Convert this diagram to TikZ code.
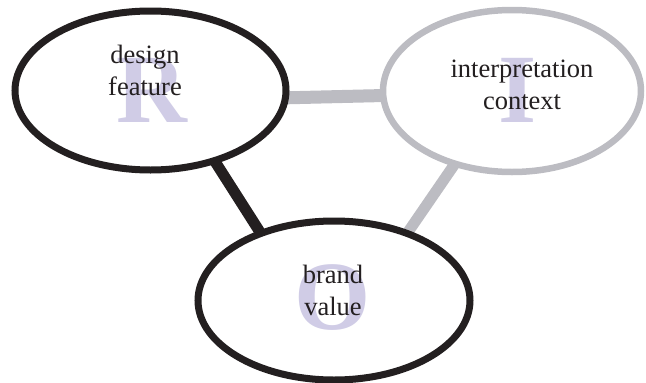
\documentclass[tikz,border=0pt]{standalone}
\usepackage{fontspec}
\setmainfont{Liberation Serif}
\usepackage{xcolor}
\usepackage{tikz}
\usetikzlibrary{shapes.geometric,backgrounds}
\definecolor{inkblack}{RGB}{35,31,32}
\definecolor{linkgray}{RGB}{188,188,194}
\definecolor{lettertint}{RGB}{208,204,230}

\begin{document}
\begin{tikzpicture}[x=1pt,y=-1pt,
    n/.style={draw=inkblack,ellipse,fill=white,line width=7pt,inner sep=0pt},
    big/.style={font=\fontsize{98}{98}\selectfont\bfseries,text=lettertint,inner sep=0pt,anchor=base},
    lbl/.style={font=\fontsize{26.5}{32}\selectfont,align=center,text=inkblack,inner sep=0pt},
    link/.style={line width=11pt,shorten <=-8pt,shorten >=-8pt}]
    \useasboundingbox (0,0) rectangle (646,383);

    \node[n,minimum width=271pt,minimum height=159pt] (rep) at (150.5,90.5) {};
    \node[n,draw=linkgray,line width=6.5pt,minimum width=258pt,minimum height=162pt] (interp) at (512,91) {};
    \node[n,minimum width=272pt,minimum height=159pt] (obj) at (334,300.5) {};

    \node[big] (rl) at (152,122) {R};
    \node[big] (il) at (518,122) {I};
    \node[big] (ol) at (333,329) {O};

    \node[lbl] (rt) at (145,70) {design\\feature};
    \node[lbl] (it) at (522,85) {interpretation\\context};
    \node[lbl] (ot) at (333,290) {brand\\value};

    \begin{scope}[on background layer]
    \draw[link,linkgray,line width=13pt] (rep.-3) -- (interp.182) ;
    \draw[link,inkblack] (rep.-48) -- (obj.137) ;
    \draw[link,linkgray] (obj.43) -- (interp.-128) ;
    \end{scope}
  \end{tikzpicture}
\end{document}
